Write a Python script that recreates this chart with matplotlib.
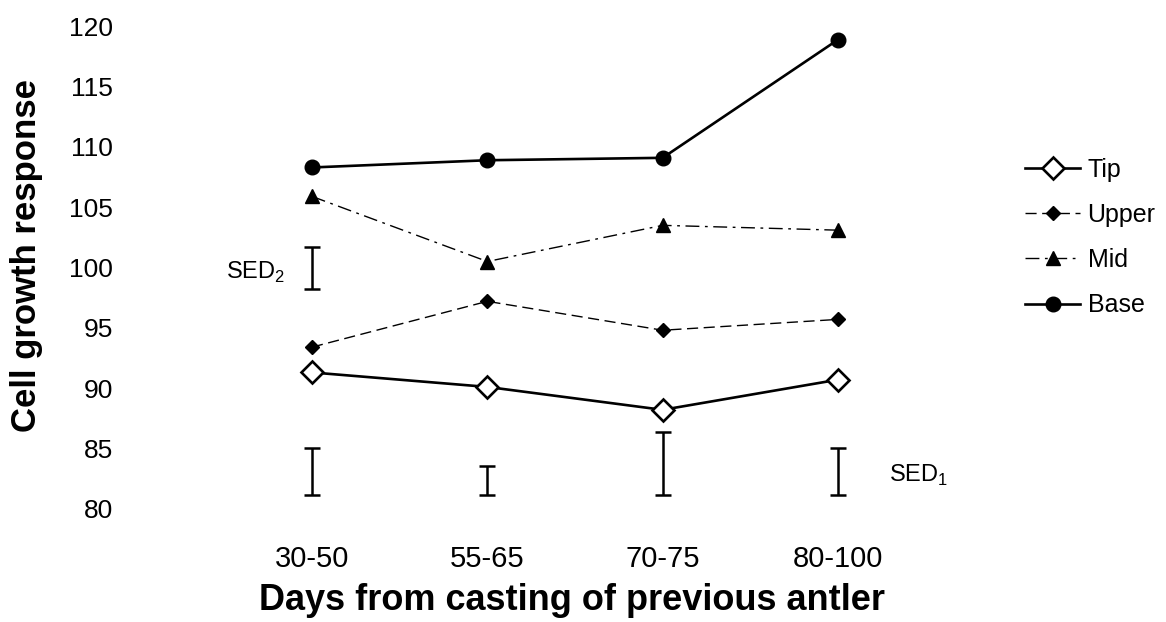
import numpy as np
import matplotlib
matplotlib.use('Agg')
import matplotlib.pyplot as plt

#--------------------------------------------------------------------------------------------
# Data
days = ['30-50', '55-65', '70-75', '80-100']
tip = [91.3, 90.1, 88.2, 90.7]
upper = [93.4, 97.2, 94.8, 95.7]
mid = [105.9, 100.5, 103.5, 103.1]
base = [108.3, 108.9, 109.1, 118.9]

# SED bars (low, high)
sed1_low = [81.1, 81.1, 81.1, 81.1]
sed1_high = [85.0, 83.5, 86.4, 85.0]
sed2_low = 98.2
sed2_high = 101.7

#--------------------------------------------------------------------------------------------
plt.rcParams['font.family'] = ['Liberation Sans', 'DejaVu Sans']

fig = plt.figure(figsize=(11.66, 6.22), dpi=100)
W, H = 1166., 622.
ax = fig.add_axes([125 / W, 1 - 508.7 / H, 875 / W, (508.7 - 26.4) / H])

x = np.arange(len(days))

# Series
ax.plot(x, tip, color='black', lw=1.9, marker='D', ms=11, mfc='white', mec='black', mew=1.9,
        label='Tip', clip_on=False, zorder=3)
ax.plot(x, upper, color='black', lw=1.0, ls=(0, (8, 4)), marker='D', ms=7.5, mfc='black', mec='black',
        label='Upper', clip_on=False, zorder=3)
ax.plot(x, mid, color='black', lw=1.0, ls=(0, (10, 4, 2, 4)), marker='^', ms=9.5, mfc='black', mec='black',
        label='Mid', clip_on=False, zorder=3)
ax.plot(x, base, color='black', lw=1.9, marker='o', ms=10.5, mfc='black', mec='black',
        label='Base', clip_on=False, zorder=3)

# SED1 bars under each group
lo = np.array(sed1_low)
hi = np.array(sed1_high)
ax.errorbar(x, (lo + hi) / 2, yerr=(hi - lo) / 2, fmt='none', ecolor='black',
            elinewidth=1.8, capsize=6, capthick=1.8, clip_on=False)
# SED2 bar beside first group
ax.errorbar([0], [(sed2_low + sed2_high) / 2], yerr=[(sed2_high - sed2_low) / 2], fmt='none',
            ecolor='black', elinewidth=1.8, capsize=6, capthick=1.8, clip_on=False)

ax.text(-0.154, 99.6, 'SED$_\\mathregular{2}$', ha='right', va='center', fontsize=17)
ax.text(3.29, 82.8, 'SED$_\\mathregular{1}$', ha='left', va='center', fontsize=17)

# Axes
ax.set_xlim(-(312 - 125) / 175.33, 3 + (1000 - 838) / 175.33)
ax.set_ylim(80, 120)
ax.set_yticks(np.arange(80, 121, 5))
ax.tick_params(axis='y', length=0, pad=8.6, labelsize=19)
ax.set_xticks(x)
ax.set_xticklabels(days, fontsize=21)
ax.tick_params(axis='x', length=0, pad=26)
for s in ax.spines.values():
    s.set_visible(False)

# Axis titles
fig.text(572 / W, 1 - 600 / H, 'Days from casting of previous antler', ha='center', va='center',
         fontsize=26, fontweight='bold')
fig.text(27 / W, 1 - 255 / H, 'Cell growth response', ha='center', va='center', rotation=90,
         fontsize=25, fontweight='bold')

# Legend
ax.legend(loc='center left', bbox_to_anchor=(1025 / W, 1 - 237.5 / H), bbox_transform=fig.transFigure,
          frameon=False, fontsize=18, handlelength=2.2, handletextpad=0.3, labelspacing=0.85,
          borderpad=0, borderaxespad=0)

#-----------------------------------------------------------------------------------------------------------
# Save the image
plt.savefig('out.png', dpi=100)
